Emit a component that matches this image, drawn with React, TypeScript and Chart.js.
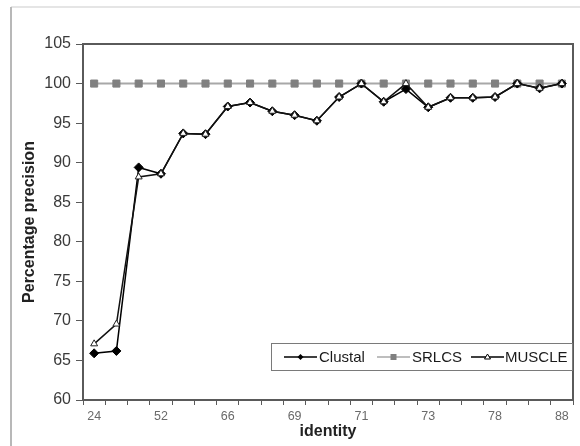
import React, { useEffect, useRef } from "react";
import { Chart, registerables } from "chart.js";

Chart.register(...registerables);

const categories = ["24", "35", "45", "52", "58", "63", "66", "67", "68", "69", "70", "70", "71", "71", "72", "73", "75", "76", "78", "80", "84", "88"];
const clustal = [65.9, 66.2, 89.4, 88.6, 93.7, 93.6, 97.1, 97.6, 96.5, 96.0, 95.3, 98.3, 100, 97.7, 99.3, 97.0, 98.2, 98.2, 98.3, 100, 99.4, 100];
const srlcs = [100, 100, 100, 100, 100, 100, 100, 100, 100, 100, 100, 100, 100, 100, 100, 100, 100, 100, 100, 100, 100, 100];
const muscle = [67.1, 69.6, 88.2, 88.6, 93.7, 93.6, 97.1, 97.6, 96.5, 96.0, 95.3, 98.3, 100, 97.7, 100, 97.0, 98.2, 98.2, 98.3, 100, 99.4, 100];
const seriesNames = ["Clustal", "SRLCS", "MUSCLE"];
const yTicks = { min: 60, max: 105, step: 5 };

const FONT = "'Liberation Sans', Arial, sans-serif";

const framePlugin = {
  id: "framePlugin",
  beforeDraw(chart: any) {
    const ctx = chart.ctx;
    ctx.save();
    ctx.fillStyle = "#ffffff";
    ctx.fillRect(0, 0, chart.width, chart.height);
    ctx.strokeStyle = "#dcdcdc";
    ctx.lineWidth = 1.5;
    ctx.beginPath();
    ctx.moveTo(11, 7);
    ctx.lineTo(chart.width, 7);
    ctx.stroke();
    ctx.strokeStyle = "#b8b8b8";
    ctx.lineWidth = 2;
    ctx.beginPath();
    ctx.moveTo(11, 7);
    ctx.lineTo(11, chart.height);
    ctx.stroke();
    ctx.restore();
  },
  beforeDatasetsDraw(chart: any) {
    const { ctx, chartArea: a } = chart;
    ctx.save();
    ctx.strokeStyle = "#5a5a5a";
    ctx.lineWidth = 2;
    ctx.strokeRect(a.left, a.top, a.right - a.left, a.bottom - a.top);
    ctx.restore();
  },
  afterDraw(chart: any) {
    const ctx = chart.ctx;
    const a = chart.chartArea;
    const bx = 271, by = 343, bw = a.right - 271, bh = 28;
    ctx.save();
    ctx.fillStyle = "#ffffff";
    ctx.fillRect(bx, by, bw, bh);
    ctx.strokeStyle = "#7a7a7a";
    ctx.lineWidth = 1;
    ctx.strokeRect(bx + 0.5, by + 0.5, bw - 1, bh - 1);
    const cy = by + bh / 2;
    const items = [
      { name: seriesNames[0], x0: 284, x1: 317, tx: 319, line: "#000000", kind: "diamond" },
      { name: seriesNames[1], x0: 377, x1: 410, tx: 412, line: "#a8a8a8", kind: "square" },
      { name: seriesNames[2], x0: 471, x1: 504, tx: 505, line: "#000000", kind: "triangle" },
    ];
    ctx.font = `15px ${FONT}`;
    ctx.textBaseline = "middle";
    ctx.textAlign = "left";
    for (const it of items) {
      ctx.strokeStyle = it.line;
      ctx.lineWidth = 1.5;
      ctx.beginPath();
      ctx.moveTo(it.x0, cy);
      ctx.lineTo(it.x1, cy);
      ctx.stroke();
      const mx = (it.x0 + it.x1) / 2;
      if (it.kind === "diamond") {
        ctx.fillStyle = "#000";
        ctx.beginPath();
        ctx.moveTo(mx, cy - 3);
        ctx.lineTo(mx + 3, cy);
        ctx.lineTo(mx, cy + 3);
        ctx.lineTo(mx - 3, cy);
        ctx.closePath();
        ctx.fill();
      } else if (it.kind === "square") {
        ctx.fillStyle = "#808080";
        ctx.fillRect(mx - 3, cy - 3, 6, 6);
      } else {
        ctx.fillStyle = "#fff";
        ctx.strokeStyle = "#000";
        ctx.lineWidth = 1;
        ctx.beginPath();
        ctx.moveTo(mx, cy - 3);
        ctx.lineTo(mx + 3, cy + 2);
        ctx.lineTo(mx - 3, cy + 2);
        ctx.closePath();
        ctx.fill();
        ctx.stroke();
      }
      ctx.fillStyle = "#1a1a1a";
      ctx.fillText(it.name, it.tx, cy + 1);
    }
    ctx.restore();
  },
};

export default function App() {
  const ref = useRef<HTMLCanvasElement | null>(null);
  useEffect(() => {
    if (!ref.current) return;
    const chart = new Chart(ref.current, {
      type: "line",
      data: {
        labels: categories,
        datasets: [
          {
            label: seriesNames[0],
            data: clustal,
            borderColor: "#000000",
            backgroundColor: "#000000",
            borderWidth: 1.5,
            pointStyle: "rectRot",
            pointRadius: 4.5,
            pointBorderWidth: 1,
            pointBackgroundColor: "#000000",
            pointBorderColor: "#000000",
            order: 2,
          },
          {
            label: seriesNames[1],
            data: srlcs,
            borderColor: "#a8a8a8",
            backgroundColor: "#808080",
            borderWidth: 2,
            pointStyle: "rect",
            pointRadius: 5,
            pointBorderWidth: 1,
            pointBackgroundColor: "#808080",
            pointBorderColor: "#808080",
            order: 3,
          },
          {
            label: seriesNames[2],
            data: muscle,
            borderColor: "#111111",
            backgroundColor: "#ffffff",
            borderWidth: 1.5,
            pointStyle: "triangle",
            pointRadius: 4,
            pointBorderWidth: 1,
            pointBackgroundColor: "#ffffff",
            pointBorderColor: "#222222",
            order: 1,
          },
        ],
      },
      options: {
        responsive: false,
        animation: false,
        maintainAspectRatio: false,
        layout: { padding: { left: 12, top: 44, right: 7, bottom: 4 } },
        plugins: { legend: { display: false }, tooltip: { enabled: false } },
        scales: {
          x: {
            type: "category",
            offset: true,
            afterFit: (s: any) => { s.height = 42; },
            grid: { offset: true, drawOnChartArea: false, drawTicks: true, tickLength: 5, color: "#5a5a5a" },
            border: { display: false },
            ticks: {
              autoSkip: false,
              maxRotation: 0,
              padding: 4,
              color: "#6a6a6a",
              font: { family: FONT, size: 12.5 },
              callback: (_v: any, i: number) => (i % 3 === 0 ? categories[i] : ""),
            },
            title: { display: true, text: "identity", color: "#222", font: { family: FONT, size: 16, weight: "bold" }, padding: { top: 0, bottom: 1 } },
          },
          y: {
            min: yTicks.min,
            max: yTicks.max,
            afterFit: (s: any) => { s.width = 71; },
            grid: { drawOnChartArea: false, drawTicks: true, tickLength: 7, color: "#5a5a5a" },
            border: { display: false },
            ticks: { stepSize: yTicks.step, padding: 5, color: "#3a3a3a", font: { family: FONT, size: 16 } },
            title: { display: true, text: "Percentage precision", color: "#222", font: { family: FONT, size: 16, weight: "bold" }, padding: { top: 8, bottom: 0 } },
          },
        },
      },
      plugins: [framePlugin],
    });
    return () => chart.destroy();
  }, []);
  return (
    <div style={{ position: "fixed", left: 0, top: 0, width: 580, height: 446 }}>
      <canvas ref={ref} width={580} height={446} style={{ width: 580, height: 446, display: "block" }} />
    </div>
  );
}
